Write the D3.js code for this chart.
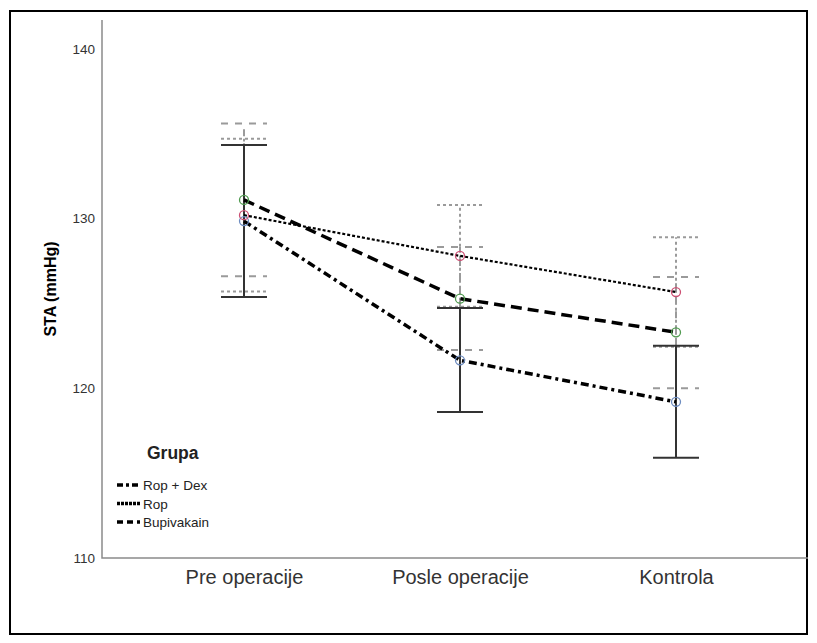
<!DOCTYPE html>
<html>
<head>
<meta charset="utf-8">
<script src="https://cdn.jsdelivr.net/npm/d3@7/dist/d3.min.js"></script>
<style>
  body { margin: 0; background: #fff; }
  svg text { font-family: "Liberation Sans", Arial, sans-serif; }
</style>
</head>
<body>
<div id="chart"></div>
<script>
// categories and groups
const categories = ["Pre operacije", "Posle operacije", "Kontrola"];
const groups = ["Rop + Dex", "Rop", "Bupivakain"];

// means per group (same order as categories)
const ropDexMean = [129.85, 121.65, 119.2];
const ropMean = [130.2, 127.8, 125.67];
const bupiMean = [131.1, 125.28, 123.3];

// error bar limits
const ropDexLow = [125.38, 118.6, 115.9];
const ropDexHigh = [134.34, 124.73, 122.5];
const ropLow = [125.7, 124.8, 122.44];
const ropHigh = [134.7, 130.8, 128.9];
const bupiLow = [126.6, 122.26, 120.0];
const bupiHigh = [135.6, 128.33, 126.56];

const yTicks = [110, 120, 130, 140];

const W = 817, H = 643;
const plot = {left: 102, right: 808, top: 20, bottom: 558};

const svg = d3.select("#chart").append("svg")
    .attr("width", W).attr("height", H);

// outer frame
svg.append("rect")
    .attr("x", 10).attr("y", 11)
    .attr("width", 797).attr("height", 623)
    .attr("fill", "none").attr("stroke", "#000").attr("stroke-width", 2);

const x = d3.scalePoint()
    .domain(categories)
    .range([244, 676]);

const y = d3.scaleLinear()
    .domain([110, 141.7])
    .range([plot.bottom, plot.top]);

// axes
const yAxis = d3.axisLeft(y).tickValues(yTicks).tickSize(0).tickPadding(7);
const yAxisEl = svg.append("g").attr("transform", "translate(" + plot.left + ",0)").call(yAxis);
yAxisEl.select(".domain").remove();
yAxisEl.selectAll("text").attr("font-size", 13.5).attr("fill", "#333");

svg.append("path")
    .attr("d", "M" + plot.left + "," + plot.top + "V" + plot.bottom + "H" + plot.right)
    .attr("fill", "none").attr("stroke", "#8a8a8a").attr("stroke-width", 1.5);

const xAxis = d3.axisBottom(x).tickSize(0).tickPadding(12);
const xAxisEl = svg.append("g").attr("transform", "translate(0," + plot.bottom + ")").call(xAxis);
xAxisEl.select(".domain").remove();
xAxisEl.selectAll("text").attr("font-size", 20).attr("fill", "#333");

svg.append("text")
    .attr("transform", "translate(56," + 289 + ") rotate(-90)")
    .attr("text-anchor", "middle")
    .attr("font-size", 16).attr("font-weight", "bold")
    .text("STA (mmHg)");

const series = [
  {name: groups[0], mean: ropDexMean, low: ropDexLow, high: ropDexHigh,
   line: "8,4,3,4", lw: 3.5, bar: "#333", barDash: null, dot: "#6d8cc0"},
  {name: groups[1], mean: ropMean, low: ropLow, high: ropHigh,
   line: "3,2", lw: 2.2, bar: "#9a9a9a", barDash: "3,3", dot: "#cc4f72"},
  {name: groups[2], mean: bupiMean, low: bupiLow, high: bupiHigh,
   line: "11,6", lw: 3.5, bar: "#9a9a9a", barDash: "7,7", dot: "#4f9a4f"}
];

const capW = 23;

// error bars (dashed first, solid on top)
[series[2], series[1], series[0]].forEach(s => {
  const g = svg.append("g");
  categories.forEach((c, i) => {
    const cx = x(c);
    g.append("line")
      .attr("x1", cx).attr("x2", cx)
      .attr("y1", y(s.low[i])).attr("y2", y(s.high[i]))
      .attr("stroke", s.bar).attr("stroke-width", 2)
      .attr("stroke-dasharray", s.barDash);
    [s.low[i], s.high[i]].forEach(v => {
      g.append("line")
        .attr("x1", cx - capW).attr("x2", cx + capW)
        .attr("y1", y(v)).attr("y2", y(v))
        .attr("stroke", s.bar).attr("stroke-width", 2)
        .attr("stroke-dasharray", s.barDash);
    });
  });
});

// mean lines
const line = d3.line()
    .x((d, i) => x(categories[i]))
    .y(d => y(d));

series.forEach(s => {
  svg.append("path")
    .attr("d", line(s.mean))
    .attr("fill", "none")
    .attr("stroke", "#000")
    .attr("stroke-width", s.lw)
    .attr("stroke-dasharray", s.line);
});

// markers
series.forEach(s => {
  svg.selectAll(null)
    .data(s.mean)
    .enter().append("circle")
    .attr("cx", (d, i) => x(categories[i]))
    .attr("cy", d => y(d))
    .attr("r", 4.5)
    .attr("fill", "none")
    .attr("stroke", s.dot)
    .attr("stroke-width", 1.3);
});

// legend
const legend = svg.append("g").attr("transform", "translate(117,0)");
legend.append("text")
    .attr("x", 30).attr("y", 459)
    .attr("font-size", 17.5).attr("font-weight", "bold")
    .attr("fill", "#222")
    .text("Grupa");

series.forEach((s, i) => {
  const ly = 485 + i * 18.5;
  legend.append("line")
    .attr("x1", 0).attr("x2", 23)
    .attr("y1", ly).attr("y2", ly)
    .attr("stroke", "#000").attr("stroke-width", 3.5)
    .attr("stroke-dasharray", i === 0 ? "6,3,3,3" : i === 1 ? "3,1" : "6,4");
  legend.append("text")
    .attr("x", 26).attr("y", ly + 5)
    .attr("font-size", 13.5).attr("fill", "#222")
    .text(s.name);
});
</script>
</body>
</html>
